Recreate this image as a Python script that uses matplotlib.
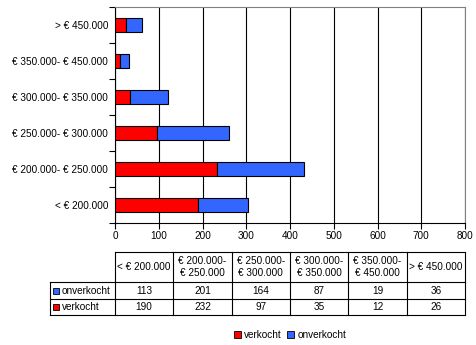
import matplotlib.pyplot as plt
from matplotlib.patches import Rectangle
from matplotlib.lines import Line2D
import numpy as np

plt.rcParams['font.family'] = ['Liberation Sans', 'DejaVu Sans']
plt.rcParams['font.size'] = 7.2

categories = ['< € 200.000', '€ 200.000- € 250.000', '€ 250.000- € 300.000',
              '€ 300.000- € 350.000', '€ 350.000- € 450.000', '> € 450.000']
col_labels = ['< € 200.000', '€ 200.000-\n€ 250.000', '€ 250.000-\n€ 300.000',
              '€ 300.000-\n€ 350.000', '€ 350.000-\n€ 450.000', '> € 450.000']
verkocht = [190, 232, 97, 35, 12, 26]
onverkocht = [113, 201, 164, 87, 19, 36]

red = '#ff0000'
blue = '#3366ff'

W, H = 476, 345
fig = plt.figure(figsize=(W / 100, H / 100), dpi=100)
ax = fig.add_axes([115 / W, 1 - 223 / H, 350 / W, 216 / H])

y = np.arange(len(categories))
ax.barh(y, verkocht, height=0.4, color=red, edgecolor='black', linewidth=0.8, zorder=3)
ax.barh(y, onverkocht, left=verkocht, height=0.4, color=blue, edgecolor='black',
        linewidth=0.8, zorder=3)

ax.set_xlim(0, 800)
ax.set_ylim(-0.5, len(categories) - 0.5)
ax.set_xticks(range(0, 801, 100))
ax.set_yticks(y)
ax.set_yticklabels(categories)
ax.set_yticks(np.arange(-0.5, len(categories), 1), minor=True)
ax.tick_params(axis='y', which='major', length=0, pad=5)
ax.tick_params(axis='y', which='minor', length=4, width=0.8, direction='out')
ax.tick_params(axis='x', length=4, width=0.8, direction='out', pad=2)
ax.grid(axis='x', color='black', linewidth=0.8, zorder=0)
for s in ['top', 'right']:
    ax.spines[s].set_color('#808080')
    ax.spines[s].set_linewidth(0.8)
for s in ['left', 'bottom']:
    ax.spines[s].set_linewidth(0.8)


# data table, laid out in pixel coordinates (origin top-left)
def fx(px):
    return px / W


def fy(py):
    return 1 - py / H


def hline(x0, x1, yy):
    fig.add_artist(Line2D([fx(x0), fx(x1)], [fy(yy), fy(yy)], color='black', lw=0.8))


def vline(xx, y0, y1):
    fig.add_artist(Line2D([fx(xx), fx(xx)], [fy(y0), fy(y1)], color='black', lw=0.8))


label_left, grid_left, grid_right = 50, 115, 465
col_w = (grid_right - grid_left) / len(col_labels)
row_edges = [252, 282, 299, 315]

hline(grid_left, grid_right, row_edges[0])
for yy in row_edges[1:]:
    hline(label_left, grid_right, yy)
vline(label_left, row_edges[1], row_edges[-1])
for k in range(len(col_labels) + 1):
    vline(grid_left + k * col_w, row_edges[0], row_edges[-1])

for k, lab in enumerate(col_labels):
    fig.text(fx(grid_left + (k + 0.5) * col_w), fy((row_edges[0] + row_edges[1]) / 2), lab,
             ha='center', va='center', linespacing=1.25)

rows = [('onverkocht', blue, onverkocht), ('verkocht', red, verkocht)]
for i, (name, col, vals) in enumerate(rows):
    yc = (row_edges[i + 1] + row_edges[i + 2]) / 2
    fig.patches.append(Rectangle((fx(53), fy(yc + 3)), 6 / W, 6 / H,
                                 transform=fig.transFigure, facecolor=col,
                                 edgecolor='black', linewidth=0.6))
    fig.text(fx(62), fy(yc), name, ha='left', va='center')
    for k, v in enumerate(vals):
        fig.text(fx(grid_left + (k + 0.5) * col_w), fy(yc), str(v), ha='center', va='center')

handles = [Rectangle((0, 0), 1, 1, facecolor=red, edgecolor='black', linewidth=0.6),
           Rectangle((0, 0), 1, 1, facecolor=blue, edgecolor='black', linewidth=0.6)]
fig.legend(handles, ['verkocht', 'onverkocht'], loc='center', ncol=2,
           bbox_to_anchor=(290 / W, 1 - 335 / H), frameon=False,
           handlelength=0.75, handleheight=0.75, handletextpad=0.3, columnspacing=0.5)

fig.savefig('out.png', dpi=100)
